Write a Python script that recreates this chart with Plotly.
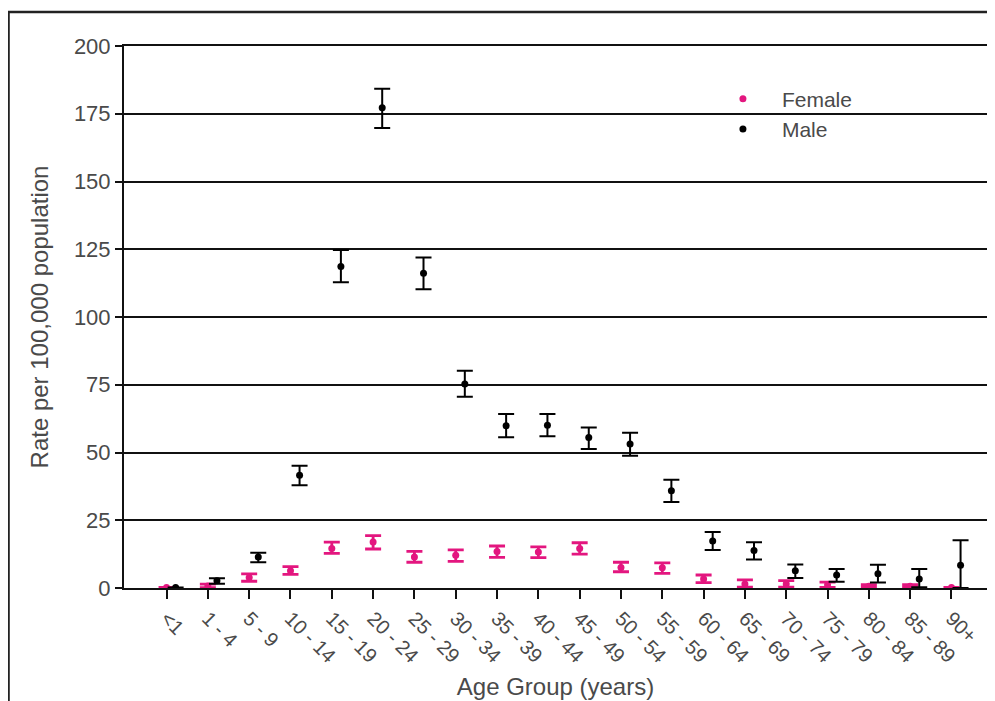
import plotly.graph_objects as go

age_groups = ["<1", "1 - 4", "5 - 9", "10 - 14", "15 - 19", "20 - 24", "25 - 29",
              "30 - 34", "35 - 39", "40 - 44", "45 - 49", "50 - 54", "55 - 59",
              "60 - 64", "65 - 69", "70 - 74", "75 - 79", "80 - 84", "85 - 89", "90+"]

female_rate = [0.2, 0.7, 3.9, 6.4, 14.6, 17.0, 11.4, 12.1, 13.5, 13.3,
               14.6, 7.6, 7.5, 3.3, 1.5, 1.5, 1.1, 0.6, 0.6, 0.2]
female_upper = [0.2, 1.4, 5.2, 7.9, 16.9, 19.3, 13.5, 14.1, 15.5, 15.2,
                16.7, 9.5, 9.3, 4.8, 3.0, 2.7, 2.2, 1.2, 1.2, 0.2]
female_lower = [0.2, 0.1, 2.5, 5.0, 12.8, 14.4, 9.5, 9.8, 11.3, 11.2,
                12.5, 6.0, 5.4, 2.0, 0.3, 0.3, 0.2, 0.1, 0.1, 0.2]

male_rate = [0.2, 2.7, 11.4, 41.6, 118.6, 177.2, 116.1, 75.3, 59.9, 60.1,
             55.5, 53.1, 35.9, 17.3, 13.8, 6.4, 4.8, 5.3, 3.3, 8.4]
male_upper = [0.2, 3.6, 13.0, 45.1, 124.7, 184.2, 122.0, 80.2, 64.2, 64.2,
              59.2, 57.3, 39.9, 20.7, 16.9, 8.7, 7.0, 8.6, 7.0, 17.6]
male_lower = [0.2, 1.6, 9.5, 37.9, 112.8, 169.7, 110.2, 70.6, 55.6, 56.0,
              51.3, 48.8, 31.7, 14.0, 10.5, 3.7, 2.3, 2.0, 0.3, 0.0]

y_ticks = [0, 25, 50, 75, 100, 125, 150, 175, 200]

PINK = "#E3167F"
TEXT = "#4a4a4a"
FONT = "Liberation Sans, Arial, sans-serif"

pos = list(range(len(age_groups)))
male_offset = 0.22
male_pos = [p + male_offset for p in pos]

fig = go.Figure()
fig.add_trace(go.Scatter(
    x=pos, y=female_rate, mode="markers", name="Female",
    marker=dict(color=PINK, size=7),
    error_y=dict(type="data", symmetric=False,
                 array=[u - r for u, r in zip(female_upper, female_rate)],
                 arrayminus=[r - l for r, l in zip(female_rate, female_lower)],
                 color=PINK, thickness=2.8, width=8),
))
fig.add_trace(go.Scatter(
    x=male_pos, y=male_rate, mode="markers", name="Male",
    marker=dict(color="black", size=7),
    error_y=dict(type="data", symmetric=False,
                 array=[u - r for u, r in zip(male_upper, male_rate)],
                 arrayminus=[r - l for r, l in zip(male_rate, male_lower)],
                 color="black", thickness=2, width=8),
))

# page body has an 8px margin, so the figure is sized to end at the window edge
fig.update_layout(
    width=987, height=693,
    margin=dict(l=116, r=8, t=38, b=113, autoexpand=False),
    paper_bgcolor="white", plot_bgcolor="white",
    font=dict(family=FONT, color=TEXT),
    showlegend=True,
    legend=dict(x=0.672, y=0.94, xanchor="left", yanchor="top",
                bgcolor="rgba(0,0,0,0)", font=dict(size=21, color=TEXT),
                itemwidth=68, tracegroupgap=0),
    xaxis=dict(
        range=[-1.03, 19.86], tickmode="array", tickvals=pos, ticktext=age_groups,
        tickangle=45, tickfont=dict(size=20, color=TEXT),
        ticks="outside", ticklen=9, tickwidth=2, tickcolor="#111",
        showline=True, linecolor="#111", linewidth=2, mirror=True,
        showgrid=False, zeroline=False, automargin=False,
        title=dict(text="Age Group (years)", font=dict(size=24, color=TEXT), standoff=12),
    ),
    yaxis=dict(
        range=[0, 200], tickmode="array", tickvals=y_ticks,
        tickfont=dict(size=22, color=TEXT),
        ticks="outside", ticklen=7, tickwidth=2, tickcolor="#111",
        showline=True, linecolor="#111", linewidth=2, mirror=True,
        showgrid=True, gridcolor="#111", gridwidth=1.6, zeroline=False,
        automargin=False,
        title=dict(text="Rate per 100,000 population", font=dict(size=24, color=TEXT), standoff=18),
    ),
    shapes=[dict(type="rect", xref="paper", yref="paper",
                 x0=-0.1338, x1=1.1, y0=-0.3, y1=1.0627,
                 line=dict(color="#222", width=2.5), layer="below")],
)

fig.write_html("out.html")
